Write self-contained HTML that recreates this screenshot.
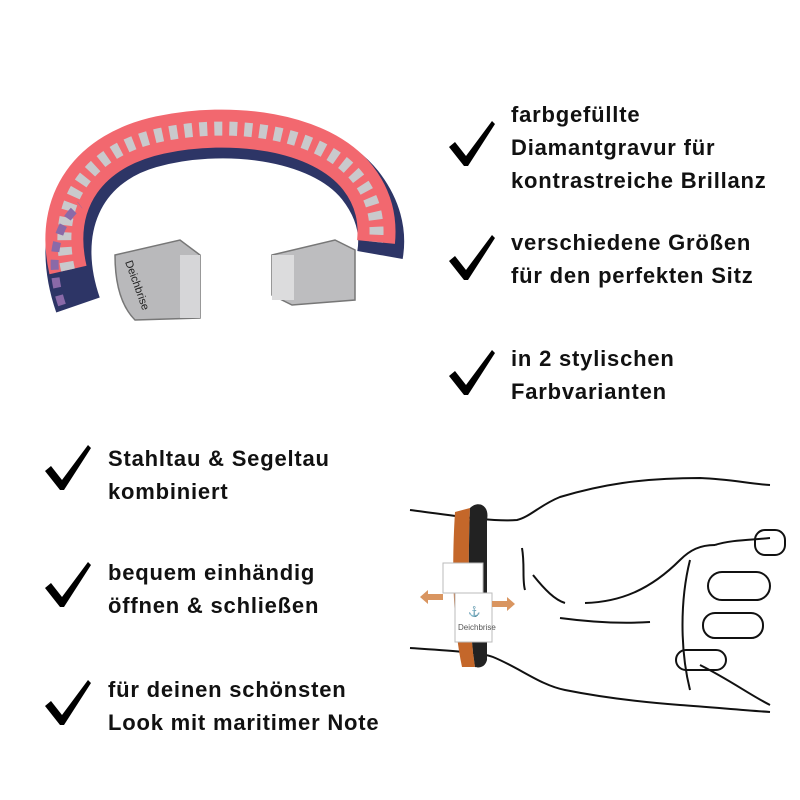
<!DOCTYPE html>
<html><head><meta charset="utf-8"><style>
body{margin:0;background:#fff;}
.wrap{position:relative;width:800px;height:800px;overflow:hidden;background:#fff;font-family:"Liberation Sans",Arial,sans-serif;}
.t{position:absolute;font-weight:bold;font-size:22px;letter-spacing:0.8px;line-height:33px;color:#111;white-space:nowrap;}
svg{position:absolute;left:0;top:0;}
</style></head><body><div class="wrap">
<svg width="800" height="800" viewBox="0 0 800 800">
<defs>
<polygon id="ck" points="0,26 6,21 17,35 43,0 46,3 19,45 15,45" fill="#000"/>
</defs>
<use href="#ck" x="449" y="121"/>
<use href="#ck" x="449" y="235"/>
<use href="#ck" x="449" y="350"/>
<use href="#ck" x="45" y="445"/>
<use href="#ck" x="45" y="562"/>
<use href="#ck" x="45" y="680"/>

<!-- bracelet -->
<path d="M78,305 C52,230 80,165 150,145 C220,125 320,135 360,185 C378,208 384,232 380,255" fill="none" stroke="#2d3566" stroke-width="46"/>
<path d="M68,270 C52,200 90,150 160,135 C230,120 320,130 358,178 C375,200 378,222 376,242" fill="none" stroke="#f2686f" stroke-width="38"/>
<path d="M68,270 C52,200 90,150 160,135 C230,120 320,130 358,178 C375,200 378,222 376,242" fill="none" stroke="#c9c9cc" stroke-width="14" stroke-dasharray="8 7"/>
<path d="M62,305 C45,255 60,220 80,205" fill="none" stroke="#8a6aa8" stroke-width="8" stroke-dasharray="10 8"/>
<!-- clasps -->
<path d="M115,255 L180,240 L200,255 L200,318 L135,320 Q115,300 115,255Z" fill="#b9b9bb" stroke="#777" stroke-width="1.5"/>
<rect x="180" y="255" width="20" height="63" fill="#d6d6d8"/>
<text x="125" y="262" font-size="11" fill="#222" transform="rotate(70 125 262)" font-family="Liberation Sans,sans-serif">Deichbrise</text>
<path d="M272,255 L335,240 L355,250 L355,300 L292,305 L272,295Z" fill="#bdbdbf" stroke="#777" stroke-width="1.5"/>
<rect x="272" y="255" width="22" height="45" fill="#dcdcdd"/>

<!-- arm sketch -->
<g fill="none" stroke="#111" stroke-width="2">
<path d="M410,510 C450,515 490,522 517,520 C530,517 540,505 560,497 C600,485 640,478 700,478 C730,479 750,484 770,485"/>
<path d="M410,648 C440,650 480,652 493,657 C520,668 540,685 565,690 C600,697 640,702 680,705 C710,707 740,710 770,712"/>
<path d="M522,548 C525,565 522,580 525,590"/>
<path d="M533,575 C545,590 555,600 565,603"/>
<path d="M585,603 C620,602 650,590 680,560 C690,550 700,545 715,545"/>
<path d="M560,618 C590,622 620,624 650,622"/>
<path d="M715,545 C730,540 750,540 770,538"/>
<rect x="708" y="572" width="62" height="28" rx="14"/>
<rect x="703" y="613" width="60" height="25" rx="12"/>
<rect x="676" y="650" width="50" height="20" rx="10"/>
<rect x="755" y="530" width="30" height="25" rx="10"/>
<path d="M690,560 C680,600 680,650 690,690"/>
<path d="M700,665 C730,680 750,695 770,705"/>
</g>
<!-- bracelet on arm -->
<path d="M455,512 C452,560 452,620 462,667 L475,667 C468,620 468,560 470,508Z" fill="#c4672a"/>
<path d="M470,508 C478,500 490,505 487,520 L487,660 C485,668 478,668 475,667 C468,620 468,560 470,508Z" fill="#222"/>
<rect x="443" y="563" width="40" height="30" fill="#fff" stroke="#bbb"/>
<rect x="455" y="593" width="37" height="49" fill="#fff" stroke="#bbb"/>
<text x="458" y="630" font-size="8" fill="#555" font-family="Liberation Sans,sans-serif">Deichbrise</text>
<text x="468" y="615" font-size="10" fill="#333">⚓</text>
<path d="M443,594 L428,594 L428,590 L420,597 L428,604 L428,600 L443,600Z" fill="#d99560"/>
<path d="M492,601 L507,601 L507,597 L515,604 L507,611 L507,607 L492,607Z" fill="#d99560"/>
</svg>
<div class="t" style="left:511px;top:98px">farbgefüllte<br>Diamantgravur für<br>kontrastreiche Brillanz</div>
<div class="t" style="left:511px;top:226px">verschiedene Größen<br>für den perfekten Sitz</div>
<div class="t" style="left:511px;top:342px">in 2 stylischen<br>Farbvarianten</div>
<div class="t" style="left:108px;top:442px">Stahltau &amp; Segeltau<br>kombiniert</div>
<div class="t" style="left:108px;top:556px">bequem einhändig<br>öffnen &amp; schließen</div>
<div class="t" style="left:108px;top:673px">für deinen schönsten<br>Look mit maritimer Note</div>
</div></body></html>
